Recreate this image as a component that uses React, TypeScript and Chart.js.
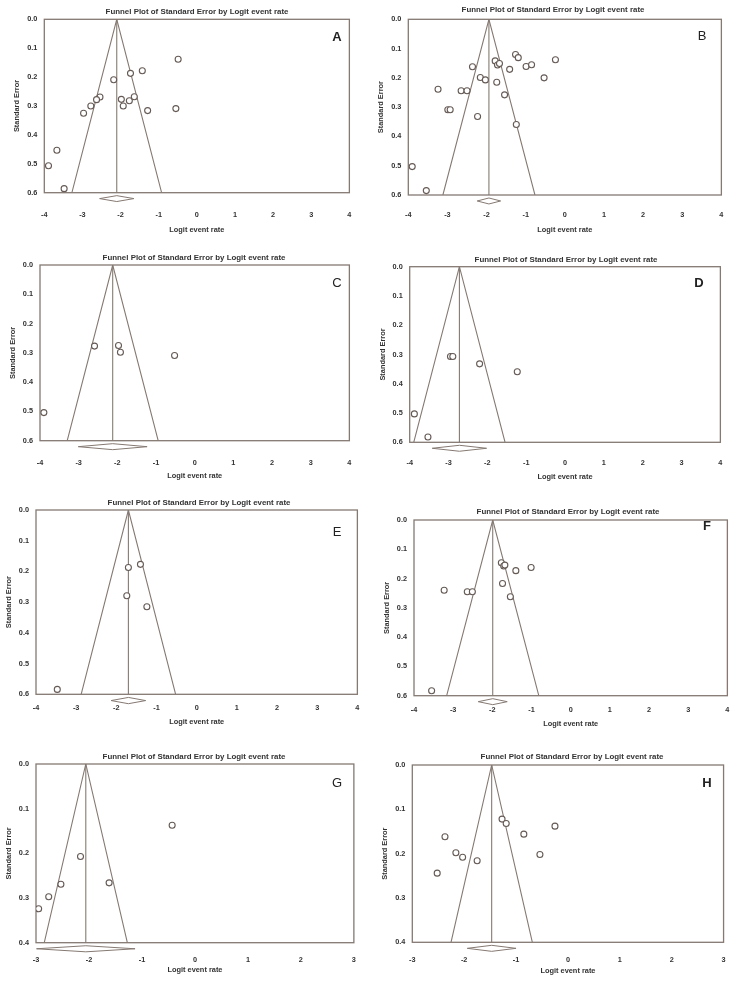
import React, { useEffect, useRef } from "react";
import { Chart, registerables } from "chart.js";

Chart.register(...registerables);

const FONT = "'Liberation Sans', Arial, sans-serif";
const LINE = "#857972";
const PT = "#655a55";
const TXT = "#333333";

// ---------- data ----------
const panelLetters = ["A", "B", "C", "D", "E", "F", "G", "H"];
const titleText = "Funnel Plot of Standard Error by Logit event rate";
const xAxisTitle = "Logit event rate";
const yAxisTitle = "Standard Error";

const xRangeWide = [-4, 4];
const xRangeNarrow = [-3, 3];
const yMaxWide = 0.6;
const yMaxNarrow = 0.4;

const xA = [-0.49, -1.43, -1.74, -2.18, -2.54, -2.63, -2.78, -2.97, -1.98, -1.93, -1.77, -1.64, -1.29, -0.55, -3.67, -3.89, -3.48];
const yA = [0.138, 0.178, 0.187, 0.209, 0.269, 0.278, 0.3, 0.325, 0.277, 0.3, 0.282, 0.268, 0.316, 0.309, 0.453, 0.507, 0.586];

const xB = [-3.9, -3.54, -3.24, -2.99, -2.93, -2.65, -2.5, -2.36, -2.16, -2.03, -2.23, -1.78, -1.72, -1.67, -1.74, -1.41, -1.54, -1.26, -1.19, -0.99, -0.85, -1.24, -0.53, -0.24];
const yB = [0.503, 0.585, 0.239, 0.309, 0.309, 0.244, 0.244, 0.162, 0.199, 0.207, 0.332, 0.142, 0.156, 0.151, 0.215, 0.171, 0.258, 0.12, 0.131, 0.161, 0.155, 0.359, 0.2, 0.138];

const xC = [-2.59, -1.97, -1.92, -0.52, -3.9];
const yC = [0.277, 0.275, 0.298, 0.309, 0.504];

const xD = [-2.95, -2.89, -2.2, -1.23, -3.88, -3.53];
const yD = [0.307, 0.307, 0.332, 0.359, 0.503, 0.582];

const xE = [-1.7, -1.4, -1.74, -1.24, -3.47];
const yE = [0.187, 0.177, 0.279, 0.315, 0.584];

const xF = [-1.77, -1.71, -1.68, -1.4, -1.01, -1.74, -3.23, -2.64, -2.51, -1.54, -3.55];
const yF = [0.146, 0.157, 0.154, 0.173, 0.162, 0.217, 0.24, 0.245, 0.245, 0.262, 0.583];

const xG = [-0.43, -2.16, -2.53, -1.62, -2.76, -2.95];
const yG = [0.137, 0.207, 0.269, 0.266, 0.297, 0.324];

const xH = [-1.27, -1.19, -0.85, -0.25, -0.54, -2.37, -2.16, -2.03, -1.75, -2.52];
const yH = [0.122, 0.132, 0.156, 0.138, 0.202, 0.162, 0.198, 0.208, 0.216, 0.244];

// summary estimate and its CI (diamond), per panel
const summaryMean = [-2.1, -1.94, -2.12, -2.72, -1.7, -1.99, -2.06, -1.47];
const summaryLow = [-2.55, -2.24, -3.01, -3.42, -2.13, -2.36, -2.99, -1.94];
const summaryHigh = [-1.65, -1.64, -1.23, -2.02, -1.27, -1.62, -1.13, -1.0];
const Z = 1.96;

// ---------- layout (page pixels) ----------
type Layout = {
  cx: number; cy: number; w: number; h: number;
  L: number; T: number; R: number; B: number;
  titleX: number; titleY: number;
  letterX: number; letterY: number; letterBold: boolean;
  xTickDY: number; xTitleY: number;
};

const layouts: Layout[] = [
  { cx: 0, cy: 0, w: 369, h: 248, L: 44.3, T: 19.3, R: 359.3, B: 192.7, titleX: 197, titleY: 12.3, letterX: 337, letterY: 37, letterBold: true, xTickDY: 22, xTitleY: 230 },
  { cx: 369, cy: 0, w: 370, h: 248, L: 408.3, T: 19.3, R: 724, B: 195, titleX: 553, titleY: 10, letterX: 702, letterY: 36, letterBold: false, xTickDY: 20, xTitleY: 230 },
  { cx: 0, cy: 248, w: 369, h: 247, L: 40, T: 265, R: 358.3, B: 440.7, titleX: 194, titleY: 258.3, letterX: 337, letterY: 283, letterBold: false, xTickDY: 22, xTitleY: 476 },
  { cx: 369, cy: 248, w: 370, h: 247, L: 409.7, T: 266.7, R: 725.7, B: 442.3, titleX: 566, titleY: 260, letterX: 699, letterY: 283, letterBold: true, xTickDY: 21, xTitleY: 476.7 },
  { cx: 0, cy: 495, w: 369, h: 245, L: 36, T: 510, R: 360.7, B: 694.3, titleX: 199, titleY: 503.3, letterX: 337, letterY: 532, letterBold: false, xTickDY: 14, xTitleY: 722.3 },
  { cx: 369, cy: 495, w: 370, h: 245, L: 414, T: 520, R: 728.3, B: 695.7, titleX: 568, titleY: 512.3, letterX: 707, letterY: 526, letterBold: true, xTickDY: 14, xTitleY: 724.3 },
  { cx: 0, cy: 740, w: 369, h: 250, L: 36, T: 764, R: 358.3, B: 942.7, titleX: 194, titleY: 756.7, letterX: 337, letterY: 783, letterBold: false, xTickDY: 17.5, xTitleY: 969.5 },
  { cx: 369, cy: 740, w: 370, h: 250, L: 412.3, T: 765, R: 728.3, B: 942.3, titleX: 572, titleY: 756.7, letterX: 707, letterY: 783, letterBold: true, xTickDY: 17.8, xTitleY: 971 },
];

const panelXs = [xA, xB, xC, xD, xE, xF, xG, xH];
const panelYs = [yA, yB, yC, yD, yE, yF, yG, yH];

const Y_SCALE_W = 30;
const X_SCALE_H = 40;
const TICK_FONT = { family: FONT, size: 7.3, weight: "bold" as const };

function Panel({ idx }: { idx: number }) {
  const ref = useRef<HTMLCanvasElement | null>(null);
  const lay = layouts[idx];
  useEffect(() => {
    if (!ref.current) return;
    const narrow = idx >= 6;
    const [xMin, xMax] = narrow ? xRangeNarrow : xRangeWide;
    const yMax = narrow ? yMaxNarrow : yMaxWide;
    const mean = summaryMean[idx];
    const pts = panelXs[idx].map((x, i) => ({ x, y: panelYs[idx][i] }));
    const funnel = [
      { x: mean - Z * yMax, y: yMax },
      { x: mean, y: 0 },
      { x: mean + Z * yMax, y: yMax },
    ];
    const center = [
      { x: mean, y: 0 },
      { x: mean, y: yMax },
    ];
    const dy = yMax * 1.034;
    const dh = yMax * 0.017;
    const diamond = [
      { x: summaryLow[idx], y: dy },
      { x: mean, y: dy - dh },
      { x: summaryHigh[idx], y: dy },
      { x: mean, y: dy + dh },
      { x: summaryLow[idx], y: dy },
    ];

    const Lr = lay.L - lay.cx;
    const Tr = lay.T - lay.cy;
    const Rr = lay.R - lay.cx;
    const Br = lay.B - lay.cy;

    const deco = {
      id: "deco" + idx,
      beforeDatasetsDraw(chart: any) {
        const { ctx, chartArea: a } = chart;
        ctx.save();
        ctx.strokeStyle = LINE;
        ctx.lineWidth = 1.3;
        ctx.strokeRect(a.left, a.top, a.right - a.left, a.bottom - a.top);
        ctx.restore();
      },
      afterDraw(chart: any) {
        const { ctx, chartArea: a } = chart;
        ctx.save();
        ctx.fillStyle = TXT;
        ctx.textAlign = "center";
        ctx.textBaseline = "middle";
        ctx.font = `bold 7.9px ${FONT}`;
        ctx.fillText(titleText, lay.titleX - lay.cx, lay.titleY - lay.cy);
        ctx.font = `bold 7.4px ${FONT}`;
        ctx.fillText(xAxisTitle, (a.left + a.right) / 2, lay.xTitleY - lay.cy);
        ctx.save();
        ctx.translate(a.left - 27, (a.top + a.bottom) / 2);
        ctx.rotate(-Math.PI / 2);
        ctx.fillText(yAxisTitle, 0, 0);
        ctx.restore();
        ctx.fillStyle = "#222";
        ctx.font = `${lay.letterBold ? "bold " : ""}13px ${FONT}`;
        ctx.fillText(panelLetters[idx], lay.letterX - lay.cx, lay.letterY - lay.cy);
        ctx.restore();
      },
    };

    const chart = new Chart(ref.current, {
      type: "scatter",
      data: {
        datasets: [
          {
            type: "scatter",
            data: pts,
            pointRadius: 3,
            pointBackgroundColor: "#ffffff",
            pointBorderColor: PT,
            pointBorderWidth: 1.1,
            order: 0,
          } as any,
          {
            type: "line",
            data: funnel,
            borderColor: LINE,
            borderWidth: 1.1,
            pointRadius: 0,
            fill: false,
            tension: 0,
            order: 1,
          } as any,
          {
            type: "line",
            data: center,
            borderColor: LINE,
            borderWidth: 1.1,
            pointRadius: 0,
            fill: false,
            order: 1,
          } as any,
          {
            type: "line",
            data: diamond,
            borderColor: LINE,
            borderWidth: 1,
            backgroundColor: "#ffffff",
            pointRadius: 0,
            fill: false,
            clip: false,
            order: 1,
          } as any,
        ],
      },
      options: {
        animation: false,
        responsive: false,
        maintainAspectRatio: false,
        layout: {
          padding: {
            left: Lr - Y_SCALE_W,
            top: Tr,
            right: lay.w - Rr,
            bottom: lay.h - Br - X_SCALE_H,
          },
        },
        plugins: {
          legend: { display: false },
          tooltip: { enabled: false },
          title: { display: false },
        },
        scales: {
          x: {
            type: "linear",
            position: "bottom",
            min: xMin,
            max: xMax,
            grid: { display: false, drawTicks: false },
            border: { display: false },
            ticks: {
              stepSize: 1,
              padding: lay.xTickDY - 4.4,
              font: TICK_FONT,
              color: TXT,
              maxRotation: 0,
              autoSkip: false,
            },
            afterFit: (s: any) => {
              s.height = X_SCALE_H;
            },
          },
          y: {
            type: "linear",
            reverse: true,
            min: 0,
            max: yMax,
            grid: { display: false, drawTicks: false },
            border: { display: false },
            ticks: {
              stepSize: 0.1,
              padding: 7,
              font: TICK_FONT,
              color: TXT,
              callback: (v: any) => Number(v).toFixed(1),
            },
            afterFit: (s: any) => {
              s.width = Y_SCALE_W;
            },
          },
        },
      },
      plugins: [deco],
    });
    return () => chart.destroy();
  }, [idx]);

  return (
    <canvas
      ref={ref}
      width={lay.w}
      height={lay.h}
      style={{
        position: "absolute",
        left: lay.cx,
        top: lay.cy,
        width: lay.w,
        height: lay.h,
        display: "block",
      }}
    />
  );
}

export default function App() {
  return (
    <div
      style={{
        position: "absolute",
        left: 0,
        top: 0,
        width: 739,
        height: 990,
        background: "#ffffff",
        overflow: "hidden",
      }}
    >
      {panelLetters.map((_, i) => (
        <Panel key={i} idx={i} />
      ))}
    </div>
  );
}
